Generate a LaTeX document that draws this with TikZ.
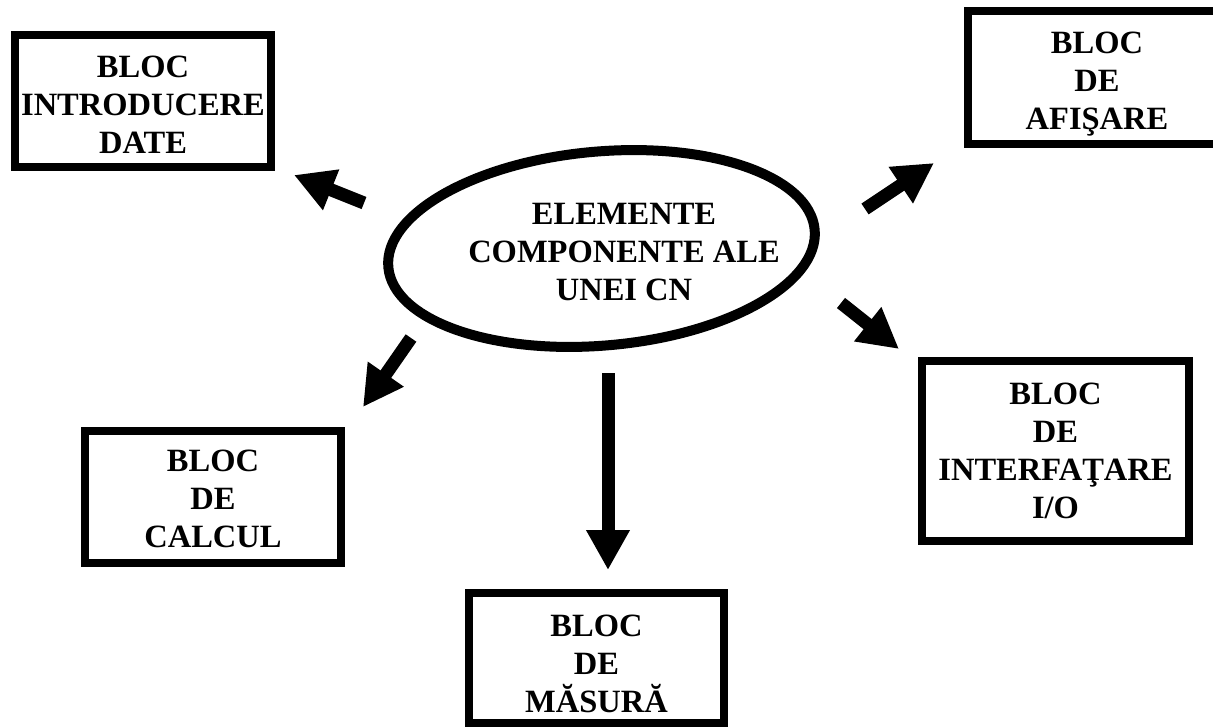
\documentclass[tikz,border=0pt]{standalone}
\usepackage{fontspec}
\setmainfont{Liberation Serif}
\usetikzlibrary{arrows.meta,shapes.geometric}
\tikzset{
  blockbox/.style={draw=black, line width=8pt, inner sep=0pt},
  blocktext/.style={align=center, inner sep=0pt,
    font=\bfseries\fontsize{32.5}{38}\selectfont},
  bigarrow/.style={line width=13pt, -{Triangle[length=40pt,width=41pt]}},
}
\begin{document}
\begin{tikzpicture}[x=1pt,y=-1pt]
\useasboundingbox (0,0) rectangle (1213,728);
% central ellipse
\node[draw=black, line width=10pt, ellipse, inner sep=0pt, rotate=5,
      minimum width=428pt, minimum height=194pt] (e) at (601.5,248.5) {};
\node[blocktext] (et) at (624,252) {ELEMENTE\\COMPONENTE ALE\\UNEI CN};
% blocks
\node[blockbox, minimum width=256pt, minimum height=132pt] (b1) at (143,101) {};
\node[blocktext] (b1t) at (143,105) {BLOC\\INTRODUCERE\\DATE};
\node[blockbox, minimum width=258pt, minimum height=133pt] (b2) at (1097,77.5) {};
\node[blocktext] (b2t) at (1097,84) {BLOC\\DE\\AFIŞARE};
\node[blockbox, minimum width=267pt, minimum height=180pt] (b4) at (1055.5,451) {};
\node[blocktext] (b4t) at (1055.5,451) {BLOC\\DE\\INTERFAŢARE\\I/O};
\node[blockbox, minimum width=256pt, minimum height=132pt] (b5) at (213,497) {};
\node[blocktext] (b5t) at (213,499) {BLOC\\DE\\CALCUL};
\node[blockbox, minimum width=255pt, minimum height=130pt] (b6) at (596.5,658) {};
\node[blocktext] (b6t) at (596.5,664) {BLOC\\DE\\MĂSURĂ};
% arrow end points
\coordinate (a1s) at (364,203); \coordinate (a1e) at (294,175);
\coordinate (a2s) at (865,209); \coordinate (a2e) at (934,163);
\coordinate (a3s) at (841,303); \coordinate (a3e) at (899,349);
\coordinate (a4s) at (411,338); \coordinate (a4e) at (363,407);
\coordinate (a5s) at (608,373); \coordinate (a5e) at (608,570);
\draw[bigarrow] (a1s) -- (a1e);
\draw[bigarrow] (a2s) -- (a2e);
\draw[bigarrow] (a3s) -- (a3e);
\draw[bigarrow] (a4s) -- (a4e);
\draw[bigarrow] (a5s) -- (a5e);
\end{tikzpicture}
\end{document}
